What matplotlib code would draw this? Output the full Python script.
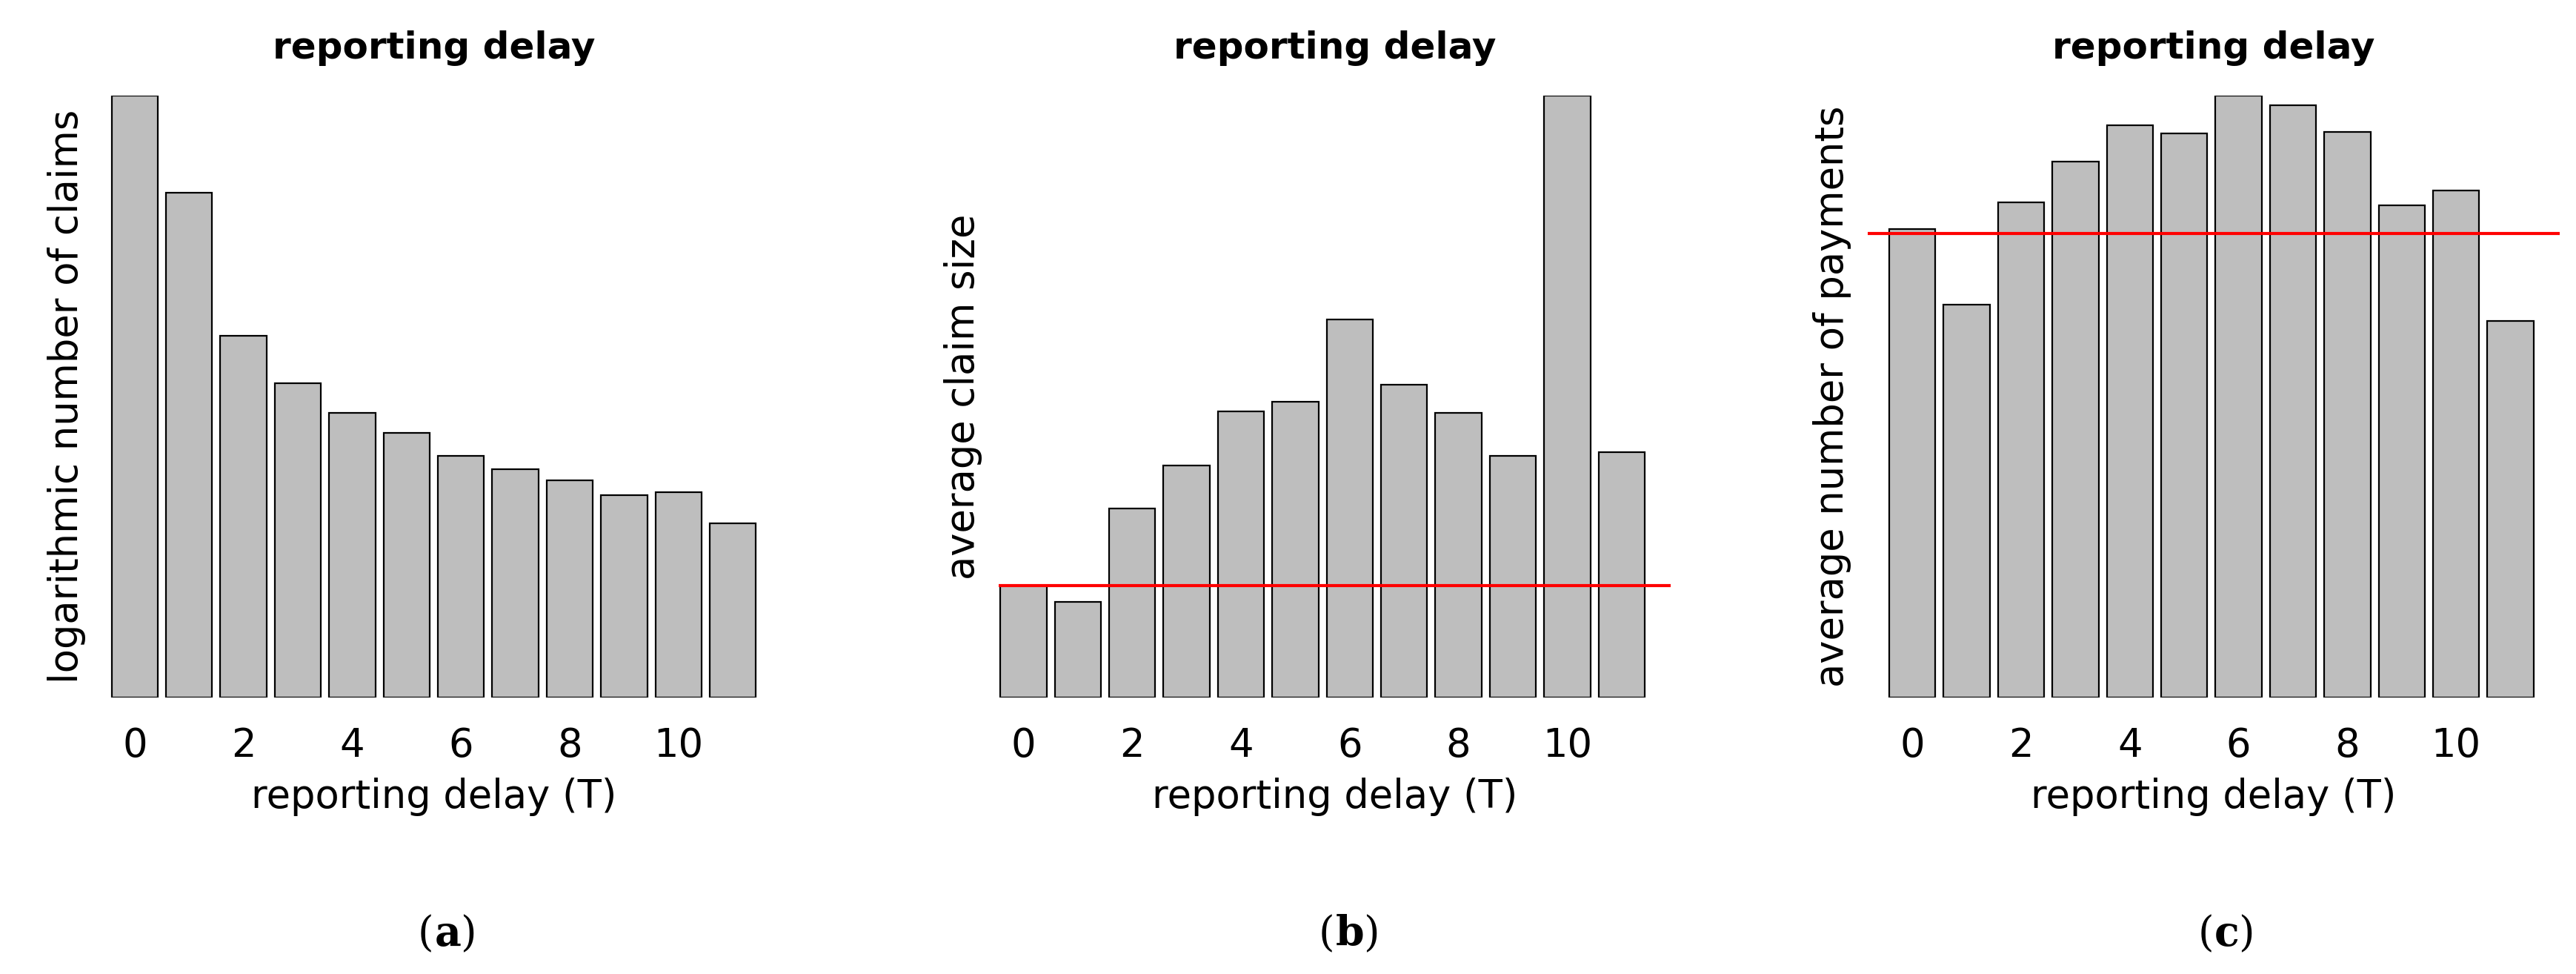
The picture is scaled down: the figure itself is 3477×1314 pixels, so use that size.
import numpy as np
import matplotlib.pyplot as plt

delay = np.arange(12)
log_claims = [366, 307, 220, 191, 173, 161, 147, 139, 132, 123, 125, 106]
avg_size = [68, 58, 115, 141, 174, 180, 230, 190, 173, 147, 366, 149]
avg_size_mean = 68
avg_payments = [285, 239, 301, 326, 348, 343, 366, 360, 344, 299, 308, 229]
avg_payments_mean = 282

W, H = 1568.0, 592.0
fig = plt.figure(figsize=(17.385, 6.57), dpi=200)

panels = [
    (log_claims, None, "logarithmic number of claims", 82, (-0.6, 11.6), "a"),
    (avg_size, avg_size_mean, "average claim size", 623, (-0.45, 11.9), "b"),
    (avg_payments, avg_payments_mean, "average number of payments", 1164, (-0.82, 11.9), "c"),
]
unit = 33.1
for vals, mean, ylab, x0, xl, tag in panels:
    left = x0 + xl[0] * unit
    right = x0 + xl[1] * unit
    ax = fig.add_axes([left / W, 1 - 424 / H, (right - left) / W, (424 - 58) / H])
    ax.bar(delay, vals, width=0.85, color="#bebebe", edgecolor="black", linewidth=0.8)
    if mean is not None:
        ax.axhline(mean, color="red", linewidth=1.5)
    ax.set_xlim(*xl)
    ax.set_ylim(0, 366)
    for s in ax.spines.values():
        s.set_visible(False)
    ax.set_yticks([])
    ax.set_xticks(range(0, 11, 2))
    ax.tick_params(axis="x", length=0, labelsize=19, pad=14)
    ax.set_xlabel("reporting delay (T)", fontsize=19, labelpad=6)
    ax.set_ylabel(ylab, fontsize=19, labelpad=8)
    ax.set_title("reporting delay", fontsize=18, fontweight="bold", pad=18)
    cx = (left + right) / 2 / W
    fig.text(cx, 1 - 568 / H, "(", fontsize=20, family="serif", ha="right", va="center")
    fig.text(cx, 1 - 568 / H, tag + ")", fontsize=20, family="serif", ha="left", va="center", alpha=0)
    fig.text(cx, 1 - 568 / H, r"$\mathbf{" + tag + "}$)", fontsize=20, family="serif",
             ha="left", va="center", math_fontfamily="dejavuserif")

fig.savefig("out.png", dpi=200)
